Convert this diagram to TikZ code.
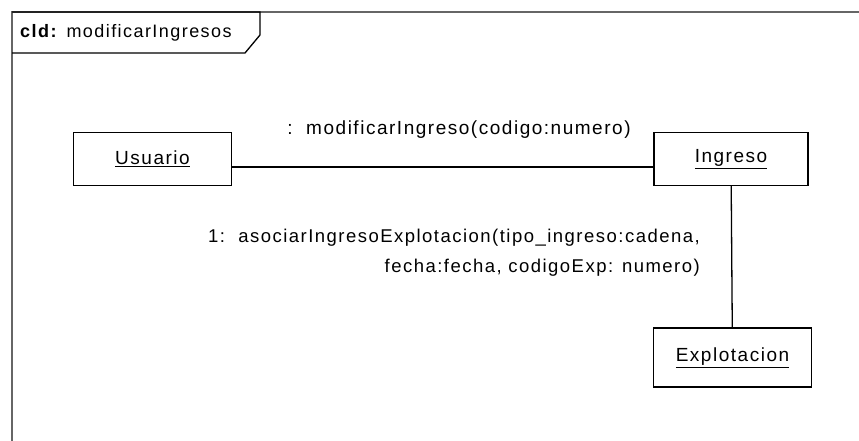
\documentclass[tikz,border=0pt]{standalone}
\usepackage{fontspec}
\setmainfont{Liberation Sans}[LetterSpace=8]
\begin{document}
\begin{tikzpicture}[x=1pt, y=-1pt,
        umlbox/.style={draw, line width=1.3pt, inner sep=0pt, minimum width=158pt, minimum height=53pt, font=\fontsize{19}{22}\selectfont},
        msglabel/.style={inner sep=0pt, font=\fontsize{19}{30}\selectfont}]
    \useasboundingbox (0,0) rectangle (859,441);
    % frame and name tab
    \draw[gray!80!black, line width=1.3pt] (12,441) -- (12,12) -- (859,12);
    \draw[line width=1.3pt] (12,12) -- (260,12) -- (260,35) -- (245,53) -- (12,53);
    \node[anchor=west, inner sep=0pt, font=\fontsize{18}{20}\selectfont] (title) at (20,33) {\textbf{cld:} modificarIngresos};
    % objects
    \node[umlbox] (usuario) at (152.5,159) {\underline{Usuario}};
    \node[umlbox, minimum width=154pt] (ingreso) at (731,159) {\underline{Ingreso}};
    \node[umlbox, minimum height=59pt] (explotacion) at (732.5,357.5) {\underline{Explotacion}};
    % links
    \draw[line width=1.3pt] ([yshift=-8pt]usuario.east) -- ([yshift=-8pt]ingreso.west);
    \draw[line width=1.3pt] (ingreso) -- (explotacion);
    % messages
    \node[msglabel] (msg0) at (459,130) {:\ \ modificarIngreso(codigo:numero)};
    \node[msglabel, anchor=east, align=right, font=\fontsize{18.5}{30}\selectfont] (msg1) at (700,253) {1:\ \ asociarIngresoExplotacion(tipo\_ingreso:cadena,\\ fecha:fecha, codigoExp: numero)};
\end{tikzpicture}
\end{document}
